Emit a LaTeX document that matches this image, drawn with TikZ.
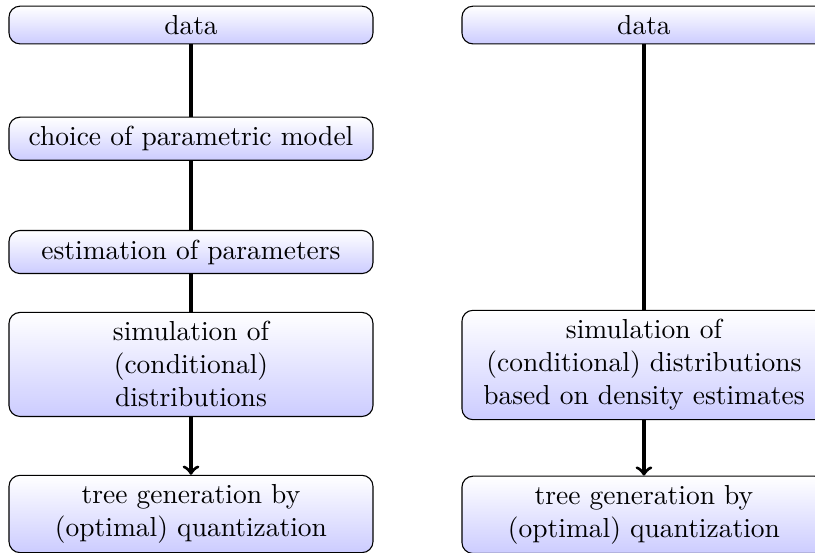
\documentclass[tikz,border=0pt]{standalone}
\usepackage{tikz}

\begin{document}
\begin{tikzpicture}
	\tikzstyle{every node} = [draw, rounded corners=4pt, top color=white, bottom color=blue!20, align=center, minimum width=4.652cm]
	\useasboundingbox (0,0) rectangle (10.416,-7.067);
	\node (d1) at (2.441, -0.320) {data};
	\node (c1) at (2.441, -1.773) {choice of parametric model};
	\node (e1) at (2.441, -3.221) {estimation of parameters};
	\node (s1) at (2.441, -4.658) {simulation of\\(conditional)\\distributions};
	\node (t1) at (2.441, -6.569) {tree generation by\\(optimal) quantization};
	\node (d2) at (8.230, -0.320) {data};
	\node (s2) at (8.230, -4.665) {simulation of\\(conditional) distributions\\based on density estimates};
	\node (t2) at (8.230, -6.580) {tree generation by\\(optimal) quantization};
	\draw [very thick] (d1)--(c1);
	\draw [very thick] (c1)--(e1);
	\draw [very thick] (e1)--(s1);
	\draw [very thick, ->] (s1)--(t1);
	\draw [very thick] (d2)--(s2);
	\draw [very thick, ->] (s2)--(t2);
\end{tikzpicture}
\end{document}
